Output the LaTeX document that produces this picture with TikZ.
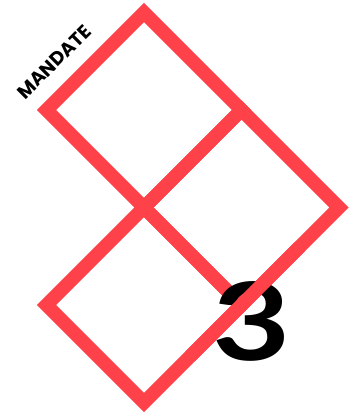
\documentclass[tikz,border=0pt]{standalone}
\usepackage{fontspec}
\newfontfamily\popfont{Poppins}
\newfontfamily\sofont{Lato}
\definecolor{dodo}{RGB}{255,65,73}
\begin{document}
\begin{tikzpicture}[
			x=1pt, y=1pt,
			line join=miter,
			line cap=butt,
			khung/.style={draw=dodo, line width=13.5pt},
			chu/.style={font=\popfont\bfseries\fontsize{19}{19}\selectfont, inner sep=0pt},
			so/.style={font=\sofont\bfseries\fontsize{108}{108}\selectfont, inner sep=0pt, xscale=1.25}
			]
			\useasboundingbox (0,0) rectangle (360,418);
			\begin{scope}[shift={(144,308)}]
				\draw[khung] (0,97.5) -- (97.5,0) -- (0,-97.5) -- (-97.5,0) -- cycle;
			\end{scope}
			\begin{scope}[shift={(241.5,210.5)}]
				\draw[khung] (0,97.5) -- (97.5,0) -- (0,-97.5) -- (-97.5,0) -- cycle;
			\end{scope}
			\begin{scope}[shift={(144,113)}]
				\draw[khung] (0,97.5) -- (97.5,0) -- (0,-97.5) -- (-97.5,0) -- cycle;
			\end{scope}
			\node[chu, rotate=45] (nhan) at (54,356) {MANDATE};
			\node[so] (so3) at (252,97) {3};
			% duong cheo de len so 3
			\coordinate (cheoA) at (190,61.5);
			\coordinate (cheoB) at (300,171.5);
			\draw[khung] (cheoA) -- (cheoB);
		\end{tikzpicture}
\end{document}
